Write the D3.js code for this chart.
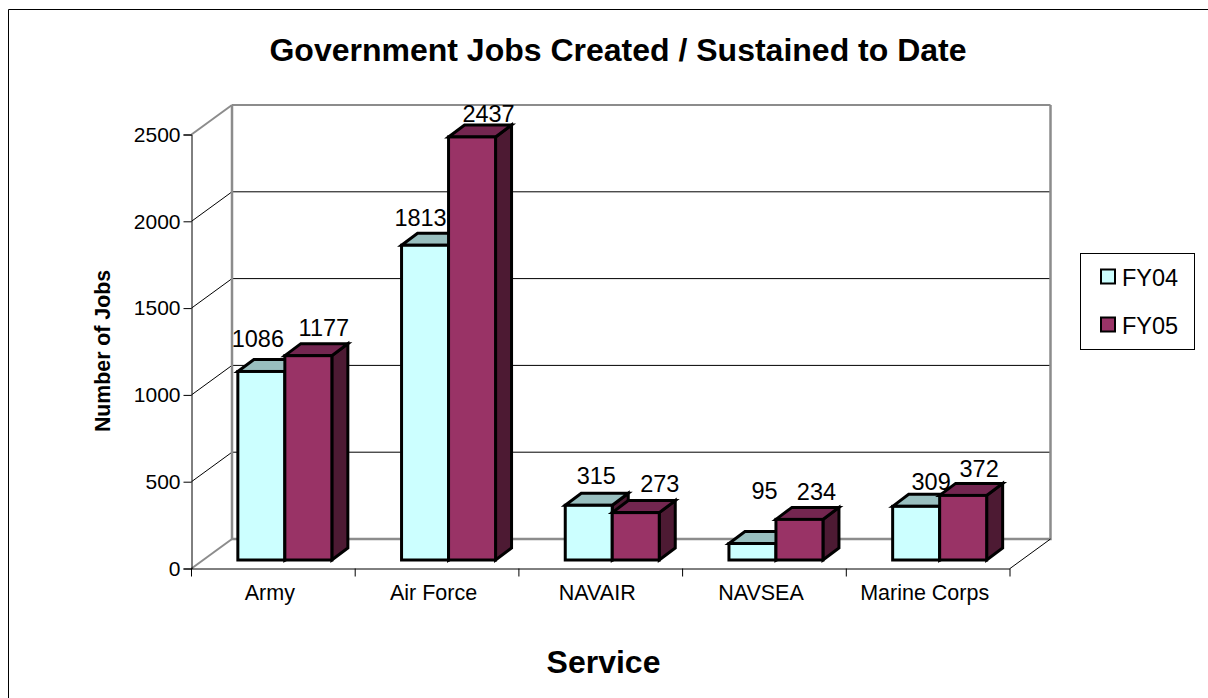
<!DOCTYPE html>
<html><head><meta charset="utf-8">
<script src="https://cdn.jsdelivr.net/npm/d3@7"></script>
<style>html,body{margin:0;padding:0;background:#fff}svg{display:block}text{font-family:"Liberation Sans",Arial,sans-serif;fill:#000}</style>
</head><body><svg id="c" width="1208" height="698"></svg>
<script>
const categories = ["Army","Air Force","NAVAIR","NAVSEA","Marine Corps"];
const seriesNames = ["FY04","FY05"];
const fy04 = [1086,1813,315,95,309];
const fy05 = [1177,2437,273,234,372];
const yTicks = [0,500,1000,1500,2000,2500];
const seriesValues = [fy04,fy05];
const fills = ["#CCFFFF","#993366"], tops = ["#99BFBF","#732650"], side = "#4D1A33";
// hand placement of the value labels, relative to each bar's top-front centre
const labelDx = [[-3.5,15.5],[-4.5,16.5],[7.5,24],[12,17],[15,16]];
const labelDy = [[-24,-20],[-19,-15],[-21,-21],[-45,-19],[-16,-18]];

const svg=d3.select("#c");
const m={l:191.5,r:1010,b:568.5,t:134.5};
const wall={x:40.5,y:-29.5};
const inset={x:11.5,y:-8.5};
const depth={x:16,y:-12};
const x=d3.scaleBand().domain(categories).range([m.l,m.r]);
const y=d3.scaleLinear().domain([0,2500]).range([m.b,m.t]);
const xs=d3.scaleBand().domain(seriesNames).range([0,x.bandwidth()]).paddingOuter(0.7415);

svg.append("path").attr("d",`M8.5,698V9.5H1208`).attr("fill","none").attr("stroke","#000");

svg.append("text").attr("x",618).attr("y",61).attr("text-anchor","middle").attr("font-size",32).attr("font-weight","bold").text("Government Jobs Created / Sustained to Date");
svg.append("text").attr("x",603.5).attr("y",673).attr("text-anchor","middle").attr("font-size",32).attr("font-weight","bold").text("Service");
svg.append("text").attr("transform","translate(110,351) rotate(-90)").attr("text-anchor","middle").attr("font-size",21.3).attr("font-weight","bold").text("Number of Jobs");

const g=svg.append("g");
yTicks.filter(d=>d>0).forEach(d=>{
  const yy=y(d), gray=d===2500, col=gray?"#8c8c8c":"#000", sw=gray?2:1;
  g.append("line").attr("x1",m.l).attr("y1",yy).attr("x2",m.l+wall.x).attr("y2",yy+wall.y).attr("stroke",col).attr("stroke-width",sw);
  g.append("line").attr("x1",m.l+wall.x).attr("y1",yy+wall.y).attr("x2",m.r+wall.x).attr("y2",yy+wall.y).attr("stroke",col).attr("stroke-width",sw);
});
g.append("path").attr("d",`M${m.l+wall.x},${y(2500)+wall.y}V${m.b+wall.y}H${m.r+wall.x}V${y(2500)+wall.y}`).attr("fill","none").attr("stroke","#8c8c8c").attr("stroke-width",2.5);
g.append("line").attr("x1",m.l).attr("y1",m.b).attr("x2",m.l+wall.x).attr("y2",m.b+wall.y).attr("stroke","#8c8c8c").attr("stroke-width",2);
g.append("line").attr("x1",m.r).attr("y1",m.b).attr("x2",m.r+wall.x).attr("y2",m.b+wall.y).attr("stroke","#000").attr("stroke-width",1);

const FF='"Liberation Sans",Arial,sans-serif';
const yAxis=d3.axisLeft(y).tickValues(yTicks).tickFormat(d3.format("d")).tickSize(8).tickPadding(3);
const ya=svg.append("g").attr("transform",`translate(${m.l},0)`).call(yAxis);
ya.selectAll("text").attr("font-size",21).style("font-family",FF);
const xAxis=d3.axisBottom(x).tickSize(0).tickPadding(16);
const xa=svg.append("g").attr("transform",`translate(-3.5,${m.b})`).call(xAxis);
xa.selectAll("text").attr("font-size",21.5).style("font-family",FF);
xa.select(".domain").remove();
const xl=svg.append("g").attr("transform",`translate(0,${m.b})`);
xl.append("path").attr("d",`M${m.l},0.5H${m.r}`).attr("stroke","#000").attr("fill","none");
xl.selectAll("line").data(d3.range(categories.length+1)).enter().append("line")
  .attr("x1",i=>m.l+i*x.bandwidth()).attr("x2",i=>m.l+i*x.bandwidth()).attr("y1",0).attr("y2",8).attr("stroke","#000");

const bars=svg.append("g").attr("stroke","#000").attr("stroke-width",3);
categories.forEach((c,ci)=>{
  seriesNames.forEach((s,si)=>{
    const v=seriesValues[si][ci];
    const x0=x(c)+xs(s)+inset.x, w=xs.bandwidth();
    const yB=y(0)+inset.y, yT=y(v)+inset.y;
    bars.append("path").attr("fill",side).attr("d",`M${x0+w},${yT}l${depth.x},${depth.y}V${yB+depth.y}l${-depth.x},${-depth.y}Z`);
    bars.append("path").attr("fill",tops[si]).attr("d",`M${x0},${yT}l${depth.x},${depth.y}h${w}l${-depth.x},${-depth.y}Z`);
    bars.append("rect").attr("x",x0).attr("y",yT).attr("width",w).attr("height",yB-yT).attr("fill",fills[si]);
  });
});
categories.forEach((c,ci)=>{
  seriesNames.forEach((s,si)=>{
    const v=seriesValues[si][ci];
    const x0=x(c)+xs(s)+inset.x, w=xs.bandwidth();
    svg.append("text").attr("x",x0+w/2+labelDx[ci][si]).attr("y",y(v)+inset.y+labelDy[ci][si]).attr("text-anchor","middle").attr("font-size",23.5).text(v);
  });
});

const lg=svg.append("g");
lg.append("rect").attr("x",1080.5).attr("y",253.5).attr("width",114).attr("height",96).attr("fill","#fff").attr("stroke","#000");
seriesNames.forEach((s,i)=>{
  const cy=276.5+i*48;
  lg.append("rect").attr("x",1101).attr("y",cy-7).attr("width",14).attr("height",14).attr("fill",fills[i]).attr("stroke","#000").attr("stroke-width",2);
  lg.append("text").attr("x",1122).attr("y",cy+9).attr("font-size",23.5).text(s);
});
</script></body></html>
